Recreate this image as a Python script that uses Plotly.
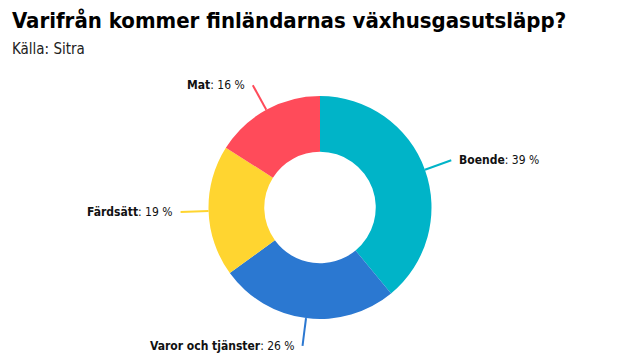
import math
import plotly.graph_objects as go

categories = ["Boende", "Varor och tjänster", "Färdsätt", "Mat"]
values = [39, 26, 19, 16]
colors = ["#00b4c8", "#2b78d1", "#ffd530", "#ff4b5a"]

W, H = 640, 360
mt, mb = 96, 41
ph = H - mt - mb
cx, cy = W / 2, mt + ph / 2
R = ph / 2
FONT = "DejaVu Sans Condensed, Liberation Sans Narrow, sans-serif"

fig = go.Figure(go.Pie(
    labels=categories, values=values, hole=0.5, sort=False, direction="clockwise",
    rotation=0, marker=dict(colors=colors, line=dict(color="white", width=0)),
    textinfo="none", hoverinfo="label+percent", showlegend=False,
))

def to_paper(x, y):
    return x / W, (H - mb - y) / ph

total = sum(values)
cum = 0
shapes, annotations = [], []
for cat, v, col in zip(categories, values, colors):
    mid = (cum + v / 2) / total * 2 * math.pi
    cum += v
    s, c = math.sin(mid), math.cos(mid)
    x0, y0 = cx + R * s, cy - R * c
    x1, y1 = cx + (R + 28) * s, cy - (R + 28) * c
    p0, p1 = to_paper(x0, y0), to_paper(x1, y1)
    shapes.append(dict(type="line", xref="paper", yref="paper", x0=p0[0], y0=p0[1],
                       x1=p1[0], y1=p1[1], line=dict(color=col, width=2)))
    right = s > 0
    tx = x1 + (6 if right else -6)
    pt = to_paper(tx, y1)
    annotations.append(dict(xref="paper", yref="paper", x=pt[0], y=pt[1],
                            text=f"<b>{cat}</b>: {v} %", showarrow=False,
                            xanchor="left" if right else "right", yanchor="middle",
                            font=dict(size=12, color="#111", family=FONT)))

annotations.append(dict(xref="paper", yref="paper", x=10 / W, y=(H - mb - 21) / ph,
                        text="<b>Varifrån kommer finländarnas växhusgasutsläpp?</b>",
                        showarrow=False, xanchor="left", yanchor="middle",
                        font=dict(size=22, color="#000", family=FONT)))
annotations.append(dict(xref="paper", yref="paper", x=10 / W, y=(H - mb - 49) / ph,
                        text="Källa: Sitra", showarrow=False, xanchor="left", yanchor="middle",
                        font=dict(size=15, color="#222", family=FONT)))

fig.update_layout(
    width=W, height=H, margin=dict(l=0, r=0, t=mt, b=mb, autoexpand=False),
    paper_bgcolor="white", plot_bgcolor="white",
    shapes=shapes, annotations=annotations, font=dict(family=FONT),
)
fig.write_html("out.html")
